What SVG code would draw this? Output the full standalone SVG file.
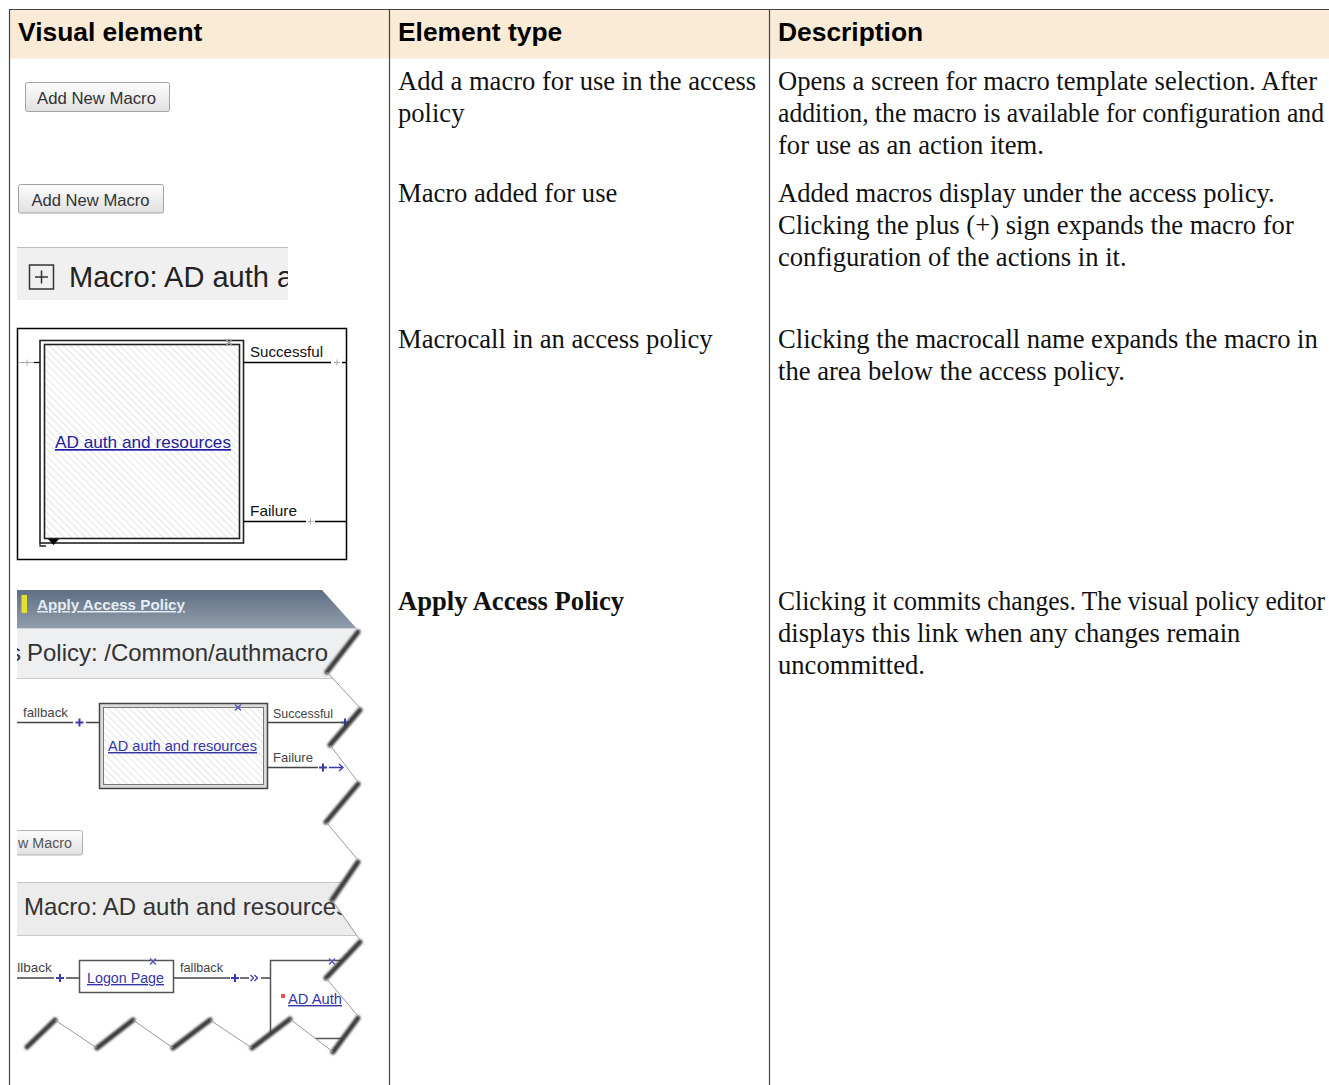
<svg xmlns="http://www.w3.org/2000/svg" width="1329" height="1085" viewBox="0 0 1329 1085">
<defs>
<style>
.hdr{font-family:"Liberation Sans",Arial,sans-serif;font-weight:bold;font-size:26.4px;fill:#000}
.body{font-family:"Liberation Serif","Times New Roman",serif;font-size:26.6px;fill:#111}
.ui{font-family:"Liberation Sans",Arial,sans-serif}
.grid{stroke:#444;stroke-width:1.2;fill:none}
.btn{fill:url(#btn);stroke:#a3a3a3;stroke-width:1}
.btxt{font-family:"Liberation Sans",Arial,sans-serif;font-size:16.5px;fill:#333}
.link{fill:#20209e;text-decoration:underline}
.lbl{font-family:"Liberation Sans",Arial,sans-serif;font-size:13.5px;fill:#444}
.bplus{stroke:#3a3ab0;stroke-width:2;fill:none}
.gplus{stroke:#aaa;stroke-width:1;fill:none}
.shadow{stroke:#3a3a3a;stroke-width:5;fill:none;stroke-linecap:round;filter:url(#blur)}
.thin{stroke:#9a9a9a;stroke-width:1;fill:none}
</style>
<linearGradient id="btn" x1="0" y1="0" x2="0" y2="1"><stop offset="0" stop-color="#fdfdfd"/><stop offset="1" stop-color="#e0e0e0"/></linearGradient>
<linearGradient id="bar" x1="0" y1="0" x2="0" y2="1"><stop offset="0" stop-color="#5f6f84"/><stop offset="1" stop-color="#909dab"/></linearGradient>
<pattern id="hatch" width="5" height="5" patternUnits="userSpaceOnUse" patternTransform="rotate(-45)"><rect width="5" height="5" fill="#fff"/><line x1="0" y1="0" x2="0" y2="5" stroke="#d4d4d4" stroke-width="1.2"/></pattern>
<filter id="blur" x="-20%" y="-20%" width="140%" height="140%"><feGaussianBlur stdDeviation="1.1"/></filter>
<clipPath id="clipBand"><rect x="17" y="246" width="271" height="54"/></clipPath>
<clipPath id="clipShot"><polygon points="17,590 322,590 358,630 327,672 360,708 330,745 358,782 326,822 358,860 332,900 360,940 326,978 358,1016 333,1052 290,1019 252,1048 210,1020 173,1048 133,1020 97,1048 55,1020 27,1047 17,1040"/></clipPath>
</defs>
<rect width="1329" height="1085" fill="#fff"/>

<g id="table-grid">
<rect x="9.5" y="9.5" width="1330" height="49" fill="#FAEBD7"/>
<path class="grid" d="M9.5,1085 V9.5 H1329 M389.5,9.5 V1085 M769.5,9.5 V1085"/>
</g>

<g id="header">
<text class="hdr" x="18" y="41">Visual element</text>
<text class="hdr" x="398" y="41">Element type</text>
<text class="hdr" x="778" y="41">Description</text>
</g>

<g id="row1-visual">
<rect class="btn" x="25.5" y="82.5" width="144" height="29" rx="2"/>
<text class="btxt" x="37" y="104" textLength="119" lengthAdjust="spacingAndGlyphs">Add New Macro</text>
</g>
<g id="row1-type"><text class="body" x="398" y="89.5">Add a macro for use in the access</text><text class="body" x="398" y="121.5">policy</text></g>
<g id="row1-desc">
<text class="body" x="778" y="89.5">Opens a screen for macro template selection. After</text>
<text class="body" x="778" y="121.5" textLength="546" lengthAdjust="spacingAndGlyphs">addition, the macro is available for configuration and</text>
<text class="body" x="778" y="153.5">for use as an action item.</text>
</g>

<g id="row2-visual">
<rect class="btn" x="18.5" y="184.5" width="145" height="28.5" rx="2"/>
<text class="btxt" x="31.5" y="206" textLength="118" lengthAdjust="spacingAndGlyphs">Add New Macro</text>
<rect x="17" y="247" width="271" height="53" fill="#f0f0f0"/>
<line x1="17" y1="247.5" x2="288" y2="247.5" stroke="#bdbdbd"/>
<rect x="29.5" y="265" width="24" height="24" fill="none" stroke="#333" stroke-width="1.5"/>
<path d="M35,277 H48 M41.5,270.5 V283.5" stroke="#333" stroke-width="1.5"/>
<g clip-path="url(#clipBand)"><text class="ui" x="69" y="287" font-size="29" fill="#222">Macro: AD auth and resources</text></g>
</g>
<g id="row2-type"><text class="body" x="398" y="201.5">Macro added for use</text></g>
<g id="row2-desc">
<text class="body" x="778" y="201.5">Added macros display under the access policy.</text>
<text class="body" x="778" y="233.5">Clicking the plus (+) sign expands the macro for</text>
<text class="body" x="778" y="265.5">configuration of the actions in it.</text>
</g>

<g id="row3-visual">
<rect x="17.5" y="328.5" width="329" height="231" fill="#fff" stroke="#000" stroke-width="1.5"/>
<path d="M19,362.5 H34" stroke="#aaa"/>
<path class="gplus" d="M24,362.5 H30 M27,359.5 V365.5"/>
<path d="M34,362.5 H40" stroke="#000" stroke-width="1.3"/>
<rect x="40" y="340.5" width="203.5" height="202.5" fill="#fff" stroke="#222" stroke-width="1.6"/>
<rect x="44.5" y="344.5" width="195" height="194" fill="url(#hatch)" stroke="#222" stroke-width="1.6"/>
<path d="M40,543 V546 H46" stroke="#222" stroke-width="1.3" fill="none"/>
<polygon points="48,539 59,539 53.5,545" fill="#000"/>
<path d="M226,339.5 L232,345.5 M232,339.5 L226,345.5" stroke="#999" stroke-width="1.5"/>
<text class="ui link" x="55" y="448" font-size="17" textLength="176" lengthAdjust="spacingAndGlyphs">AD auth and resources</text>
<text class="ui" x="250" y="357" font-size="15" fill="#111" textLength="73" lengthAdjust="spacingAndGlyphs">Successful</text>
<path d="M243.5,362.5 H331 M342,362.5 H346" stroke="#000" stroke-width="1.3"/>
<path class="gplus" d="M334,362.5 H340 M337,359.5 V365.5"/>
<text class="ui" x="250" y="516" font-size="15" fill="#111" textLength="47" lengthAdjust="spacingAndGlyphs">Failure</text>
<path d="M243.5,521.5 H306 M315,521.5 H346" stroke="#000" stroke-width="1.3"/>
<path class="gplus" d="M307.5,521.5 H313.5 M310.5,518.5 V524.5"/>
</g>
<g id="row3-type"><text class="body" x="398" y="347.5">Macrocall in an access policy</text></g>
<g id="row3-desc">
<text class="body" x="778" y="347.5">Clicking the macrocall name expands the macro in</text>
<text class="body" x="778" y="379.5">the area below the access policy.</text>
</g>

<g id="row4-visual">
<g clip-path="url(#clipShot)">
<rect x="0" y="585" width="380" height="480" fill="#fff"/>
<rect x="0" y="590" width="380" height="38" fill="url(#bar)"/>
<rect x="21.5" y="595" width="5.5" height="18" fill="#e8df2a"/>
<text class="ui" x="37" y="610" font-size="15" font-weight="bold" fill="#e6ecf3" text-decoration="underline" textLength="148" lengthAdjust="spacingAndGlyphs">Apply Access Policy</text>
<rect x="0" y="628" width="380" height="50" fill="#eeeff0"/>
<line x1="0" y1="628.5" x2="380" y2="628.5" stroke="#d0d4d8"/>
<line x1="0" y1="678.5" x2="380" y2="678.5" stroke="#c8c8c8"/>
<text class="ui" x="9" y="661" font-size="24" fill="#333">s</text>
<text class="ui" x="27" y="661" font-size="24" fill="#333" textLength="301" lengthAdjust="spacingAndGlyphs">Policy: /Common/authmacro</text>
<text class="lbl" x="23" y="717" textLength="45" lengthAdjust="spacingAndGlyphs">fallback</text>
<path d="M17,722.5 H73 M86,722.5 H99" stroke="#444" stroke-width="1.3"/>
<path class="bplus" d="M75.5,722.5 H83.5 M79.5,718.5 V726.5"/>
<rect x="99.5" y="703.5" width="168" height="85" fill="#dcdcdc" stroke="#444" stroke-width="1.5"/>
<rect x="103.5" y="707.5" width="160" height="77" fill="url(#hatch)" stroke="#777" stroke-width="1"/>
<path d="M235,704.5 L241,710.5 M241,704.5 L235,710.5" stroke="#5a5ac0" stroke-width="1.5"/>
<text class="ui" x="108" y="751" font-size="14.5" fill="#3535a8" text-decoration="underline" textLength="149" lengthAdjust="spacingAndGlyphs">AD auth and resources</text>
<text class="lbl" x="273" y="718" textLength="60" lengthAdjust="spacingAndGlyphs">Successful</text>
<path d="M267.5,722.5 H341" stroke="#444" stroke-width="1.3"/>
<path class="bplus" d="M341,722.5 H349 M345,718.5 V726.5"/>
<text class="lbl" x="273" y="762" fill="#4a3648" textLength="40" lengthAdjust="spacingAndGlyphs">Failure</text>
<path d="M267.5,767.5 H318" stroke="#444" stroke-width="1.3"/>
<path class="bplus" d="M319,767.5 H327 M323,763.5 V771.5"/>
<path d="M329,767.5 H343 M339,764 L343,767.5 L339,771" stroke="#3a3ab0" stroke-width="1.3" fill="none"/>
<rect x="5" y="830.5" width="77.5" height="24.5" rx="2" fill="url(#btn)" stroke="#b0b0b0"/>
<text class="ui" x="18" y="848" font-size="14" fill="#555" textLength="54" lengthAdjust="spacingAndGlyphs">w Macro</text>
<rect x="0" y="882" width="380" height="53" fill="#ececec"/>
<line x1="0" y1="882.5" x2="380" y2="882.5" stroke="#c8c8c8"/>
<line x1="0" y1="935.5" x2="380" y2="935.5" stroke="#c8c8c8"/>
<text class="ui" x="24" y="915" font-size="24" fill="#333">Macro: AD auth and resources</text>
<text class="lbl" x="6" y="972">fallback</text>
<path d="M17,978 H54 M66,978 H79.5" stroke="#444" stroke-width="1.3"/>
<path class="bplus" d="M56,978 H64 M60,974 V982"/>
<rect x="79.5" y="960.5" width="94" height="32" fill="#fff" stroke="#555" stroke-width="1.5"/>
<path d="M150,958.5 L156,964.5 M156,958.5 L150,964.5" stroke="#5a5ac0" stroke-width="1.5"/>
<text class="ui" x="87" y="983" font-size="14" fill="#3535a8" text-decoration="underline" textLength="77" lengthAdjust="spacingAndGlyphs">Logon Page</text>
<text class="lbl" x="180" y="972" textLength="43" lengthAdjust="spacingAndGlyphs">fallback</text>
<path d="M173.5,978 H230 M240,978 H249 M261,978 H270.5" stroke="#444" stroke-width="1.3"/>
<path class="bplus" d="M231,978 H239 M235,974 V982"/>
<path d="M250.5,975 L253.5,978 L250.5,981 M254.5,975 L257.5,978 L254.5,981" stroke="#3a3ab0" stroke-width="1.3" fill="none"/>
<rect x="270.5" y="960.5" width="90" height="78" fill="#fff" stroke="#555" stroke-width="1.5"/>
<path d="M329,958.5 L335,964.5 M335,958.5 L329,964.5" stroke="#5a5ac0" stroke-width="1.5"/>
<rect x="281" y="994" width="4" height="4" fill="#f05050"/>
<text class="ui" x="288" y="1004" font-size="14" fill="#3535a8" text-decoration="underline" textLength="54" lengthAdjust="spacingAndGlyphs">AD Auth</text>
</g>
<path class="shadow" d="M358,632 L327,672 M360,710 L330,745 M358,784 L326,822 M358,862 L332,900 M360,942 L326,978 M358,1018 L333,1052 M290,1019 L252,1048 M210,1020 L173,1048 M133,1020 L97,1048 M55,1020 L27,1047"/>
<path class="thin" d="M327,672 L360,708 M330,745 L358,782 M326,822 L358,860 M332,900 L360,940 M326,978 L358,1016 M333,1052 L290,1019 M252,1048 L210,1020 M173,1048 L133,1020 M97,1048 L55,1020"/>
</g>
<g id="row4-type"><text class="body" x="398" y="609.5" font-weight="bold">Apply Access Policy</text></g>
<g id="row4-desc">
<text class="body" x="778" y="609.5" textLength="547" lengthAdjust="spacingAndGlyphs">Clicking it commits changes. The visual policy editor</text>
<text class="body" x="778" y="641.5">displays this link when any changes remain</text>
<text class="body" x="778" y="673.5">uncommitted.</text>
</g>
<g id="connectors"/>
</svg>
